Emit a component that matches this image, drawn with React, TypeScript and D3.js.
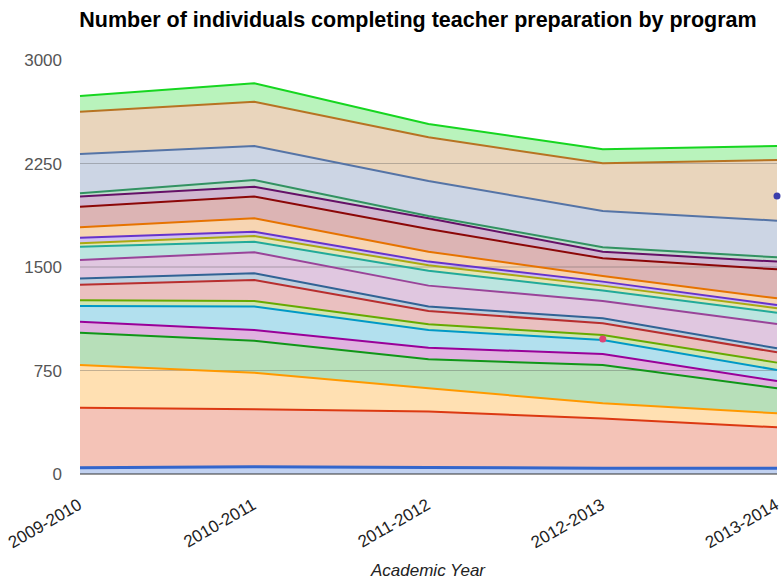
import React from "react";
import * as d3 from "d3";

const years = ["2009-2010", "2010-2011", "2011-2012", "2012-2013", "2013-2014"];
const yTicks = [0, 750, 1500, 2250, 3000];
const colors = [
  "#3366cc", "#dc3912", "#ff9900", "#109618", "#990099", "#0099c6", "#dd4477",
  "#66aa00", "#b82e2e", "#316395", "#994499", "#22aa99", "#aaaa11", "#6633cc",
  "#e67300", "#8b0707", "#651067", "#329262", "#5574a6", "#3b3eac", "#b77322", "#16d620",
];
// per-program completers, bottom series first (null = no data that year)
const p01 = [46, 53, 48, 41, 41];
const p02 = [434, 416, 404, 362, 297];
const p03 = [310, 265, 169, 109, 102];
const p04 = [234, 232, 210, 278, 181];
const p05 = [80, 77, 84, 80, 53];
const p06 = [113, 170, 128, 101, 80];
const p07 = [null, null, null, 8, null];
const p08 = [42, 41, 42, 28, 53];
const p09 = [113, 152, 96, 85, 75];
const p10 = [44, 48, 32, 36, 29];
const p11 = [135, 153, 152, 126, 176];
const p12 = [96, 76, 108, 75, 82];
const p13 = [25, 42, 39, 36, 32];
const p14 = [40, 31, 27, 29, 24];
const p15 = [76, 97, 72, 41, 48];
const p16 = [149, 157, 164, 128, 210];
const p17 = [73, 72, 78, 48, 56];
const p18 = [24, 48, 17, 32, 31];
const p19 = [285, 247, 253, 263, 266];
const p20 = [null, null, null, null, 178];
const p21 = [306, 321, 317, 345, 261];
const p22 = [115, 133, 96, 102, 102];
const series: (number | null)[][] = [p01, p02, p03, p04, p05, p06, p07, p08, p09, p10, p11,
  p12, p13, p14, p15, p16, p17, p18, p19, p20, p21, p22];

const W = 781, H = 580;
const left = 80, right = 777, top = 60, bottom = 474;

export default function App() {
  const x = d3.scalePoint<string>().domain(years).range([left, right]);
  const y = d3.scaleLinear().domain([0, 3000]).range([bottom, top]);

  // cumulative stacking
  const cum: number[][] = [];
  let prev = years.map(() => 0);
  series.forEach((s) => {
    const c = prev.map((p, i) => p + (s[i] ?? 0));
    cum.push(c);
    prev = c;
  });
  const isFull = series.map((s) => s.every((v) => v !== null));

  const areas: React.ReactNode[] = [];
  const lines: React.ReactNode[] = [];
  const dots: React.ReactNode[] = [];
  let lowerIdx = -1;
  series.forEach((s, k) => {
    if (!isFull[k]) {
      s.forEach((v, i) => {
        if (v !== null) {
          dots.push(<circle key={"d" + k + i} cx={x(years[i])} cy={y(cum[k][i])} r={3.5} fill={colors[k]} />);
        }
      });
      return;
    }
    const lower = lowerIdx >= 0 ? cum[lowerIdx] : years.map(() => 0);
    const pts = years.map((yr, i) => ({ x: x(yr) as number, y0: lower[i], y1: cum[k][i] }));
    const area = d3.area<any>().x((d) => d.x).y0((d) => y(d.y0)).y1((d) => y(d.y1));
    const line = d3.line<any>().x((d) => d.x).y((d) => y(d.y1));
    areas.push(<path key={"a" + k} d={area(pts) as string} fill={colors[k]} fillOpacity={0.3} stroke="none" />);
    lines.push(<path key={"l" + k} d={line(pts) as string} fill="none" stroke={colors[k]} strokeWidth={k === 0 ? 3 : 2} />);
    lowerIdx = k;
  });

  return (
    <svg width={W} height={H} style={{ position: "absolute", left: 0, top: 0, background: "#fff" }}
      fontFamily="Arial, 'Liberation Sans', sans-serif">
      <text x={418} y={27} textAnchor="middle" fontSize={21.5} fontWeight="bold" fill="#000">
        Number of individuals completing teacher preparation by program
      </text>
      {yTicks.filter((t) => t > 0 && t < 3000).map((t) => (
        <line key={"g" + t} x1={left} x2={right} y1={y(t)} y2={y(t)} stroke="#cccccc" strokeWidth={1} />
      ))}
      {areas}
      {yTicks.filter((t) => t > 0 && t < 3000).map((t) => (
        <line key={"g2" + t} x1={left} x2={right} y1={y(t)} y2={y(t)} stroke="#999" strokeOpacity={0.35} strokeWidth={1} />
      ))}
      {lines}
      {dots}
      <line x1={left} x2={right} y1={bottom} y2={bottom} stroke="#333" strokeWidth={1} />
      {yTicks.map((t) => (
        <text key={"t" + t} x={62} y={y(t) + 6} textAnchor="end" fontSize={17} fill="#555">{t}</text>
      ))}
      {years.map((yr) => (
        <text key={"x" + yr} transform={`translate(${(x(yr) as number) + 3},${508}) rotate(-30)`}
          textAnchor="end" fontSize={17} fill="#222">{yr}</text>
      ))}
      <text x={428} y={576} textAnchor="middle" fontSize={17} fontStyle="italic" fill="#222">Academic Year</text>
    </svg>
  );
}
